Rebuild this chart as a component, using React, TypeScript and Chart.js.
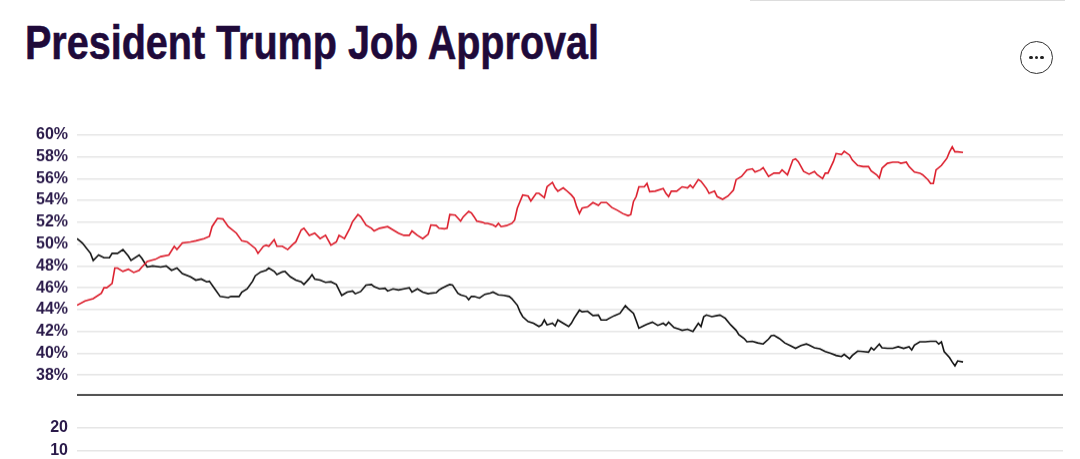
import React, { useEffect, useRef } from "react";
import { Chart, registerables } from "chart.js";

Chart.register(...registerables);

const TITLE = "President Trump Job Approval";

// Day number since the start of the plotted period
const DAY_MIN = 0;
const DAY_MAX = 365;

const disapproveDays = [
  0, 3, 6, 9, 10, 11, 13, 14, 15, 17,
  19, 21, 23, 24, 26, 29, 31, 34, 36, 37,
  39, 42, 44, 47, 49, 50, 52, 54, 56, 59,
  61, 63, 66, 67, 69, 70, 71, 73, 74, 76,
  78, 80, 81, 83, 84, 86, 88, 90, 92, 94,
  96, 97, 99, 101, 102, 104, 105, 107, 109, 110,
  112, 115, 117, 119, 121, 123, 124, 126, 128, 130,
  131, 133, 134, 136, 137, 138, 140, 142, 143, 145,
  146, 147, 148, 150, 151, 152, 154, 155, 156, 157,
  159, 161, 162, 163, 165, 167, 168, 170, 171, 173,
  174, 176, 177, 178, 180, 181, 183, 184, 185, 186,
  187, 189, 191, 193, 194, 196, 198, 200, 202, 204,
  205, 206, 207, 208, 210, 211, 212, 214, 217, 218,
  219, 220, 222, 224, 226, 227, 228, 230, 231, 233,
  234, 236, 237, 239, 241, 243, 244, 246, 248, 250,
  251, 253, 254, 256, 258, 260, 261, 263, 265, 266,
  267, 269, 271, 273, 274, 276, 277, 278, 280, 281,
  283, 284, 286, 287, 289, 291, 293, 294, 296, 297,
  298, 300, 302, 304, 305, 307, 308, 310, 312, 313,
  315, 316, 317, 318, 320, 322, 323, 324, 325, 326,
  328,
];

const disapproveValues = [
  44.4, 44.8, 45.0, 45.5, 46.0, 46.0, 46.4, 47.8, 47.8, 47.5,
  47.7, 47.4, 47.6, 47.9, 48.4, 48.6, 48.85, 49.0, 49.8, 49.5,
  50.1, 50.2, 50.3, 50.5, 50.7, 51.6, 52.35, 52.3, 51.6, 51.0,
  50.3, 50.2, 49.6, 49.15, 49.8, 49.9, 49.8, 50.4, 49.8, 49.8,
  49.5, 50.0, 50.2, 51.3, 51.45, 50.8, 51.0, 50.5, 50.8, 49.9,
  50.2, 50.8, 50.5, 51.45, 52.05, 52.7, 52.5, 51.75, 51.45, 51.2,
  51.45, 51.6, 51.3, 51.0, 50.8, 50.8, 51.2, 50.8, 50.5, 50.9,
  51.75, 51.7, 51.45, 51.4, 51.45, 52.7, 52.65, 52.1, 52.5, 53.0,
  52.85, 52.5, 52.1, 52.0, 51.9, 51.9, 51.75, 51.6, 51.9, 51.6,
  51.7, 51.9, 52.2, 53.3, 54.5, 54.4, 53.95, 54.65, 54.65, 54.25,
  55.25, 55.65, 55.15, 54.85, 55.15, 54.95, 54.5, 54.2, 53.4, 52.8,
  53.3, 53.4, 53.8, 53.55, 53.8, 53.8, 53.35, 53.1, 52.8, 52.6,
  52.7, 53.9, 54.35, 55.25, 55.25, 55.55, 54.8, 54.85, 55.1, 54.65,
  54.35, 54.85, 54.85, 55.25, 55.15, 55.4, 55.15, 55.9, 55.75, 55.1,
  54.65, 54.85, 54.35, 54.1, 54.4, 54.95, 55.9, 56.2, 56.8, 56.9,
  56.6, 56.8, 57.0, 56.2, 56.5, 56.5, 56.8, 56.35, 57.7, 57.8,
  57.55, 56.65, 56.4, 56.65, 56.35, 56.0, 56.5, 56.5, 57.55, 58.3,
  58.2, 58.5, 58.15, 57.7, 57.2, 57.1, 57.1, 56.7, 56.35, 56.05,
  56.95, 57.4, 57.5, 57.5, 57.4, 57.5, 57.1, 56.6, 56.5, 56.35,
  55.9, 55.55, 55.55, 56.8, 57.2, 57.85, 58.45, 58.9, 58.45, 58.45,
  58.4,
];

const approveDays = [
  0, 2, 5, 6, 8, 10, 12, 13, 15, 17,
  19, 20, 23, 24, 26, 28, 31, 33, 35, 37,
  39, 42, 44, 46, 48, 49, 51, 53, 56, 57,
  60, 61, 63, 65, 66, 68, 70, 71, 73, 74,
  76, 77, 79, 81, 83, 84, 86, 87, 88, 90,
  92, 94, 96, 97, 98, 100, 102, 103, 105, 107,
  109, 110, 112, 114, 115, 117, 119, 121, 123, 124,
  126, 128, 130, 131, 133, 134, 135, 137, 138, 139,
  141, 142, 144, 145, 146, 147, 149, 151, 153, 154,
  156, 158, 160, 161, 163, 164, 165, 167, 169, 171,
  172, 173, 174, 176, 177, 178, 180, 182, 183, 184,
  186, 187, 189, 191, 193, 194, 196, 197, 199, 201,
  203, 204, 206, 207, 208, 210, 211, 213, 215, 217,
  218, 219, 221, 223, 224, 226, 228, 230, 231, 232,
  233, 235, 237, 238, 240, 242, 244, 245, 247, 248,
  250, 252, 254, 256, 257, 258, 260, 262, 264, 266,
  268, 270, 271, 273, 275, 277, 279, 281, 283, 284,
  286, 287, 289, 291, 293, 294, 295, 297, 298, 300,
  302, 304, 306, 308, 309, 310, 312, 314, 316, 318,
  319, 320, 321, 323, 324, 325, 326, 328,
];

const approveValues = [
  50.5, 50.1, 49.15, 48.5, 49.0, 48.75, 48.75, 49.15, 49.15, 49.5,
  48.9, 48.5, 49.0, 48.7, 47.9, 48.0, 47.9, 48.0, 47.6, 47.8,
  47.3, 47.0, 46.7, 46.8, 46.55, 46.6, 45.9, 45.2, 45.1, 45.2,
  45.2, 45.6, 45.9, 46.6, 47.1, 47.45, 47.6, 47.8, 47.5, 47.2,
  47.45, 47.5, 47.0, 46.7, 46.55, 46.3, 46.85, 47.2, 46.8, 46.7,
  46.5, 46.55, 46.3, 45.8, 45.3, 45.6, 45.7, 45.45, 45.65, 46.25,
  46.3, 46.1, 45.9, 45.95, 45.7, 45.9, 45.8, 45.9, 46.0, 45.6,
  45.9, 45.6, 45.45, 45.5, 45.55, 45.8, 45.95, 46.2, 46.3, 46.25,
  45.5, 45.35, 45.2, 44.9, 45.2, 45.2, 45.05, 45.4, 45.5, 45.6,
  45.35, 45.3, 45.2, 45.0, 44.4, 43.8, 43.35, 42.9, 42.75, 42.45,
  42.6, 43.05, 42.6, 42.75, 42.5, 43.05, 42.75, 42.45, 42.75, 43.2,
  43.95, 43.8, 43.85, 43.45, 43.5, 43.05, 43.05, 43.2, 43.45, 43.65,
  44.35, 44.1, 43.65, 43.0, 42.3, 42.55, 42.65, 42.85, 42.55, 42.75,
  42.55, 42.85, 42.35, 42.2, 42.1, 42.2, 42.0, 42.75, 42.45, 43.35,
  43.5, 43.35, 43.45, 43.5, 43.2, 42.6, 42.1, 41.7, 41.35, 41.05,
  41.1, 40.95, 40.85, 41.3, 41.6, 41.65, 41.35, 40.95, 40.7, 40.45,
  40.7, 40.85, 40.75, 40.5, 40.4, 40.15, 40.0, 39.8, 39.7, 39.9,
  39.5, 39.8, 40.2, 40.15, 40.1, 40.5, 40.3, 40.85, 40.5, 40.45,
  40.45, 40.6, 40.45, 40.6, 40.3, 40.75, 41.05, 41.05, 41.1, 41.1,
  40.85, 41.05, 40.15, 39.6, 39.2, 38.85, 39.3, 39.2,
];

// Upper panel (percent) ticks
const upperTicks = [38, 40, 42, 44, 46, 48, 50, 52, 54, 56, 58, 60];
const UPPER_MIN = 36.19;
const UPPER_MAX = 60;

// Lower panel ticks
const lowerTicks = [0, 10, 20];
const LOWER_MIN = 0;
const LOWER_MAX = 20;

const TEXT_COLOR = "#2a1a4a";
const GRID_COLOR = "#e6e6e6";
const BASE_COLOR = "#555555";
const FONT = "'Liberation Sans', Arial, sans-serif";

function UpperChart() {
  const ref = useRef<HTMLCanvasElement | null>(null);
  useEffect(() => {
    if (!ref.current) return;
    const chart = new Chart(ref.current, {
      type: "line",
      data: {
        datasets: [
          {
            label: "Disapprove",
            data: disapproveDays.map((d, i) => ({ x: d, y: disapproveValues[i] })),
            borderColor: "#dc1f2d",
            borderWidth: 1.6,
            pointRadius: 0,
            tension: 0,
          },
          {
            label: "Approve",
            data: approveDays.map((d, i) => ({ x: d, y: approveValues[i] })),
            borderColor: "#111111",
            borderWidth: 1.6,
            pointRadius: 0,
            tension: 0,
          },
        ],
      },
      options: {
        animation: false,
        responsive: true,
        maintainAspectRatio: false,
        layout: { padding: { left: 0, right: 17, top: 24.8, bottom: 14.2 } },
        plugins: { legend: { display: false }, tooltip: { enabled: false } },
        scales: {
          x: { type: "linear", min: DAY_MIN, max: DAY_MAX, display: false },
          y: {
            type: "linear",
            min: UPPER_MIN,
            max: UPPER_MAX,
            afterBuildTicks: (s: any) => {
              s.ticks = [UPPER_MIN, ...upperTicks].map((v) => ({ value: v }));
            },
            afterFit: (s: any) => {
              s.width = 77;
            },
            border: { display: false },
            grid: {
              drawTicks: false,
              color: (c: any) => (c.tick && c.tick.value === UPPER_MIN ? BASE_COLOR : GRID_COLOR),
              lineWidth: (c: any) => (c.tick && c.tick.value === UPPER_MIN ? 2 : 1.5),
            },
            ticks: {
              autoSkip: false,
              padding: 9,
              color: TEXT_COLOR,
              font: { family: FONT, size: 16, weight: "bold" },
              callback: (v: any) => (v === UPPER_MIN ? "" : `${v}%`),
            },
          },
        },
      },
    } as any);
    return () => chart.destroy();
  }, []);
  return (
    <div style={{ position: "absolute", left: 0, top: 110, width: 1080, height: 302.5 }}>
      <canvas ref={ref} />
    </div>
  );
}

function LowerChart() {
  const ref = useRef<HTMLCanvasElement | null>(null);
  useEffect(() => {
    if (!ref.current) return;
    const chart = new Chart(ref.current, {
      type: "line",
      data: { datasets: [] },
      options: {
        animation: false,
        responsive: true,
        maintainAspectRatio: false,
        layout: { padding: { left: 0, right: 17, top: 28, bottom: 27 } },
        plugins: { legend: { display: false }, tooltip: { enabled: false } },
        scales: {
          x: { type: "linear", min: DAY_MIN, max: DAY_MAX, display: false },
          y: {
            type: "linear",
            min: LOWER_MIN,
            max: LOWER_MAX,
            afterBuildTicks: (s: any) => {
              s.ticks = lowerTicks.map((v) => ({ value: v }));
            },
            afterFit: (s: any) => {
              s.width = 77;
            },
            border: { display: false },
            grid: { drawTicks: false, color: GRID_COLOR, lineWidth: 1.5 },
            ticks: {
              autoSkip: false,
              padding: 9,
              color: TEXT_COLOR,
              font: { family: FONT, size: 16, weight: "bold" },
              callback: (v: any) => `${v}`,
            },
          },
        },
      },
    } as any);
    return () => chart.destroy();
  }, []);
  return (
    <div style={{ position: "absolute", left: 0, top: 400, width: 1080, height: 100 }}>
      <canvas ref={ref} />
    </div>
  );
}

const dotStyle: React.CSSProperties = {
  width: 3.5,
  height: 3.5,
  borderRadius: "50%",
  background: "#222",
  margin: "0 1px",
};

export default function App() {
  return (
    <div
      style={{
        position: "absolute",
        left: 0,
        top: 0,
        width: 1080,
        height: 459,
        overflow: "hidden",
        background: "#ffffff",
      }}
    >
      <div
        style={{
          position: "absolute",
          left: 750,
          top: 0,
          width: 315,
          height: 1,
          background: "#dddddd",
        }}
      />
      <div
        style={{
          position: "absolute",
          left: 25,
          top: 18,
          fontFamily: FONT,
          fontWeight: "bold",
          fontSize: 48.5,
          lineHeight: "48.5px",
          color: "#1f0a3a",
          whiteSpace: "nowrap",
          transform: "scaleX(0.815)",
          transformOrigin: "left top",
          letterSpacing: 0,
          WebkitTextStroke: "0.6px #1f0a3a",
        }}
      >
        {TITLE}
      </div>
      <div
        style={{
          position: "absolute",
          left: 1020,
          top: 41,
          width: 31,
          height: 31,
          borderRadius: "50%",
          border: "1px solid #333",
          display: "flex",
          alignItems: "center",
          justifyContent: "center",
          background: "#fff",
        }}
      >
        <div style={dotStyle} />
        <div style={dotStyle} />
        <div style={dotStyle} />
      </div>
      <UpperChart />
      <LowerChart />
    </div>
  );
}
